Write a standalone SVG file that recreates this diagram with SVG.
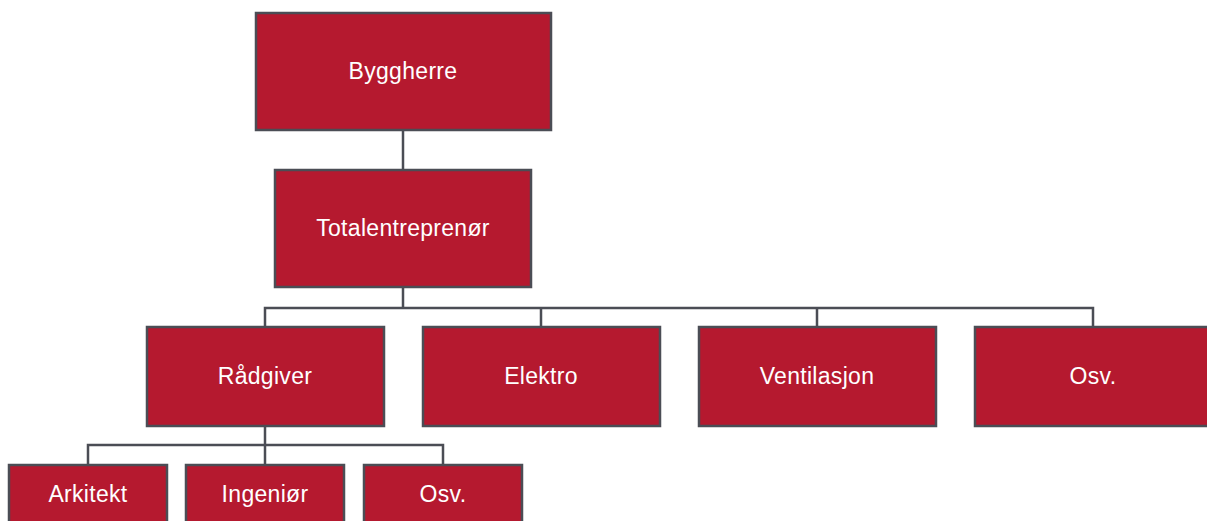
<svg xmlns="http://www.w3.org/2000/svg" width="1207" height="521" viewBox="0 0 1207 521">
<style>
.box{fill:#b5192f;stroke:#4b4d55;stroke-width:2.5}
.lbl{font-family:"Liberation Sans",Arial,sans-serif;font-size:23px;letter-spacing:0.3px;fill:#ffffff;text-anchor:middle}
.con{fill:none;stroke:#4b4d55;stroke-width:2.5}
</style>
<rect width="1207" height="521" fill="#ffffff"/>
<g id="connectors">
<path class="con" d="M403 130V170"/>
<path class="con" d="M403 287V308"/>
<path class="con" d="M265 327V308H1093V327"/>
<path class="con" d="M541 308V327M817 308V327"/>
<path class="con" d="M265 426V465"/>
<path class="con" d="M88 465V445H443V465"/>
</g>
<g id="byggherre"><rect class="box" x="256" y="13" width="295" height="117"/><text class="lbl" x="403" y="79">Byggherre</text></g>
<g id="totalentreprenor"><rect class="box" x="275" y="170" width="256" height="117"/><text class="lbl" x="403" y="236">Totalentreprenør</text></g>
<g id="radgiver"><rect class="box" x="147" y="327" width="237" height="99"/><text class="lbl" x="265" y="384">Rådgiver</text></g>
<g id="elektro"><rect class="box" x="423" y="327" width="237" height="99"/><text class="lbl" x="541" y="384">Elektro</text></g>
<g id="ventilasjon"><rect class="box" x="699" y="327" width="237" height="99"/><text class="lbl" x="817" y="384">Ventilasjon</text></g>
<g id="osv1"><rect class="box" x="975" y="327" width="237" height="99"/><text class="lbl" x="1093" y="384">Osv.</text></g>
<g id="arkitekt"><rect class="box" x="9" y="465" width="158" height="70"/><text class="lbl" x="88" y="502">Arkitekt</text></g>
<g id="ingenior"><rect class="box" x="186" y="465" width="158" height="70"/><text class="lbl" x="265" y="502">Ingeniør</text></g>
<g id="osv2"><rect class="box" x="364" y="465" width="158" height="70"/><text class="lbl" x="443" y="502">Osv.</text></g>
</svg>
